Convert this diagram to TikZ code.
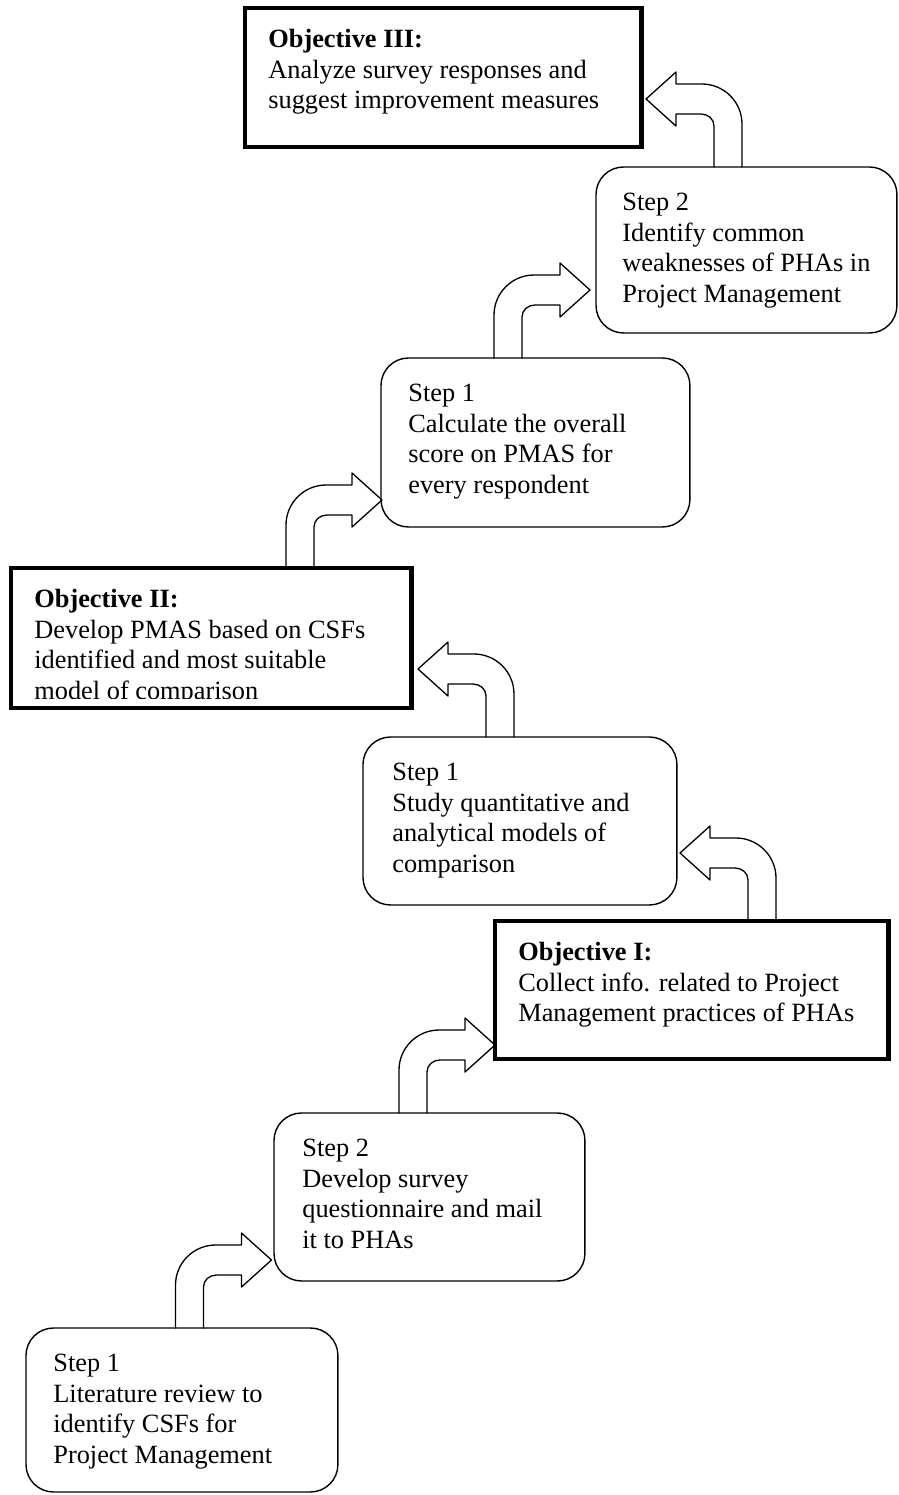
\documentclass[tikz,border=0pt]{standalone}
\usepackage{fontspec}
\setmainfont{Liberation Serif}
\tikzset{
	stepbox/.style={draw, rounded corners=0.55cm, line width=0.8pt, outer sep=0pt, anchor=north west},
	objbox/.style={draw, line width=2.8pt, line join=miter, outer sep=0pt, anchor=north west},
	boxtext/.style={anchor=north west, inner sep=0pt, align=left, font=\fontsize{15pt}{17.4pt}\selectfont},
	bentarrow/.pic={
		\draw[line width=0.75pt] (-14,0) -- (-14,-43) .. controls (-14,-65) and (4,-83) .. (26,-83) -- (52,-83) -- (52,-95) -- (82,-68) -- (52,-41) -- (52,-53) -- (27,-53) .. controls (20,-53) and (14,-48) .. (14,-41) -- (14,0);
	}
}
\begin{document}
\begin{tikzpicture}[x=0.02cm, y=-0.02cm, line join=round, line cap=round]
				\useasboundingbox (0,0) rectangle (899,1495);
				% boxes
				\node[objbox, minimum width=7.94cm, minimum height=2.78cm] (obIII) at (245,8) {};
				\node[stepbox, minimum width=6.02cm, minimum height=3.32cm] (weak) at (596,167) {};
				\node[stepbox, minimum width=6.18cm, minimum height=3.38cm] (calc) at (381,358) {};
				\node[objbox, minimum width=8.02cm, minimum height=2.80cm] (obII) at (11,568) {};
				\node[stepbox, minimum width=6.28cm, minimum height=3.36cm] (study) at (363,737) {};
				\node[objbox, minimum width=7.88cm, minimum height=2.76cm] (obI) at (495,921) {};
				\node[stepbox, minimum width=6.22cm, minimum height=3.36cm] (survey) at (274,1113) {};
				\node[stepbox, minimum width=6.24cm, minimum height=3.28cm] (lit) at (26,1328) {};
				% texts
				\node[boxtext] (obIIItxt) at ([shift={(23,21)}]obIII.north west) {\textbf{Objective III:}\\Analyze survey responses and\\suggest improvement measures};
				\node[boxtext] (weaktxt) at ([shift={(26,26)}]weak.north west) {Step 2\\Identify common\\weaknesses of PHAs in\\Project Management};
				\node[boxtext] (calctxt) at ([shift={(27,26)}]calc.north west) {Step 1\\Calculate the overall\\score on PMAS for\\every respondent};
				\begin{scope}
					\clip (11,568) rectangle (412,698);
					\node[boxtext] (obIItxt) at ([shift={(23,21)}]obII.north west) {\textbf{Objective II:}\\Develop PMAS based on CSFs\\identified and most suitable\\model of comparison};
				\end{scope}
				\node[boxtext] (studytxt) at ([shift={(29,26)}]study.north west) {Step 1\\Study quantitative and\\analytical models of\\comparison};
				\node[boxtext] (obItxt) at ([shift={(23,21)}]obI.north west) {\textbf{Objective I:}\\Collect info. related to Project\\Management practices of PHAs};
				\node[boxtext] (surveytxt) at ([shift={(28,26)}]survey.north west) {Step 2\\Develop survey\\questionnaire and mail\\it to PHAs};
				\node[boxtext] (littxt) at ([shift={(27,26)}]lit.north west) {Step 1\\Literature review to\\identify CSFs for\\Project Management};
				% bent arrows: stem x / lower box / direction
				\foreach \x/\n/\d in {189.5/lit/1, 413/survey/1, 762/obI/-1, 500/study/-1, 300/obII/1, 508/calc/1, 728/weak/-1}
					\pic[xscale=\d] at (\x,0 |- \n.north) {bentarrow};
\end{tikzpicture}
\end{document}
